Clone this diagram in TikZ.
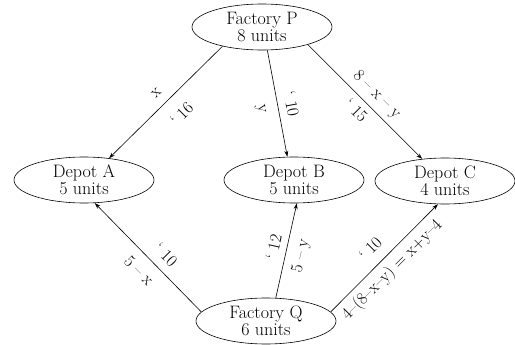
\documentclass[tikz,border=0pt]{standalone}
\usetikzlibrary{shapes.geometric, arrows.meta}

\begin{document}
\begin{tikzpicture}[
    x=1pt, y=-1pt,
    place/.style={ellipse, draw, line width=0.6pt, align=center, inner sep=0pt,
        minimum width=140pt, minimum height=46pt, font=\fontsize{18}{17}\selectfont},
    route/.style={-{Stealth[length=6pt, width=4pt]}, line width=0.6pt},
    cost/.style={sloped, inner sep=2pt, font=\fontsize{17}{17}\selectfont}
]
    \useasboundingbox (0,0) rectangle (515,345);

    % Factories and depots
    \node[place] (fp) at (262,27) {Factory P\\8 units};
    \node[place] (da) at (84,180) {Depot A\\5 units};
    \node[place] (db) at (294,180) {Depot B\\5 units};
    \node[place] (dc) at (445,181) {Depot C\\4 units};
    \node[place] (fq) at (266,321) {Factory Q\\6 units};

    % Shipments from Factory P
    \draw[route] (fp.206) -- node[cost, above=7.5pt, pos=0.5] {x}
        node[cost, below=11pt, pos=0.48] {` 16} (da.41.5);
    \draw[route] (fp.283.5) -- node[cost, above=5.5pt, pos=0.53] {` 10}
        node[cost, below=10pt, pos=0.52] {y} (db.106);
    \draw[route] (fp.339) -- node[cost, above=3.5pt, pos=0.52] {8 -- x -- y}
        node[cost, below=4pt, pos=0.5] {` 15} (dc.136);

    % Shipments from Factory Q
    \draw[route] (fq.172) -- node[cost, above=6.5pt, pos=0.43] {` 10}
        node[cost, below=7.5pt, pos=0.48] {5 -- x} (da.295);
    \draw[route] (fq.67) -- node[cost, above=5pt, pos=0.51] {` 12}
        node[cost, below=6pt, pos=0.48] {5 -- y} (db.277.5);
    \draw[route] (fq.8) -- node[cost, above=8.5pt, pos=0.48] {` 10}
        node[cost, below=3.5pt, pos=0.48] {4--(8--x--y) = x+y--4} (dc.253);
\end{tikzpicture}
\end{document}
